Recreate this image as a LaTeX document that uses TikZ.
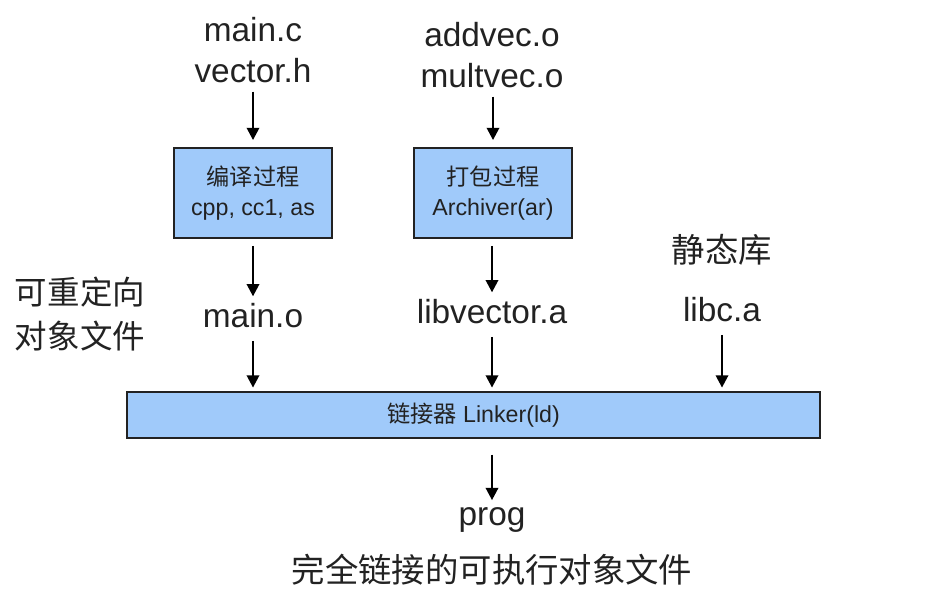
\documentclass[tikz,border=0pt]{standalone}
\usepackage{fontspec}
\setmainfont{Liberation Sans}
\newfontfamily\cjk{Noto Sans CJK SC}
\usetikzlibrary{arrows.meta}
\definecolor{boxblue}{RGB}{160,202,250}
\definecolor{ink}{RGB}{34,34,34}
\tikzset{
	big/.style={text=ink, font=\fontsize{19}{23}\selectfont, align=center, inner sep=0pt},
	small/.style={text=ink, font=\fontsize{13.2}{17}\selectfont, align=center},
	procbox/.style={small, draw=ink, line width=1pt, fill=boxblue, minimum width=3.16cm, minimum height=1.8cm},
	arr/.style={line width=1.4pt, -{Triangle[width=7pt, length=7pt]}, shorten <=5pt, shorten >=4pt}
}
\begin{document}
\begin{tikzpicture}
	\useasboundingbox (0, 0) rectangle (18.8, 11.98);
	\node[big] (srcA) at (5.06, 10.98) {main.c\\vector.h};
	\node[big] (srcB) at (9.84, 10.88) {addvec.o\\multvec.o};
	\node[procbox] (comp) at (5.06, 8.12) {{\cjk 编译过程}\\cpp, cc1, as};
	\node[procbox] (pack) at (9.86, 8.12) {{\cjk 打包过程}\\Archiver(ar)};
	\node[big] (maino) at (5.06, 5.66) {main.o};
	\node[big] (libvec) at (9.84, 5.74) {libvector.a};
	\node[big] (libc) at (14.44, 5.78) {libc.a};
	\node[big, font=\fontsize{19}{23}\selectfont\cjk] (static) at (14.44, 6.98) {静态库};
	\node[big, font=\fontsize{18.5}{25}\selectfont\cjk] (reloc) at (1.6, 5.7) {可重定向\\对象文件};
	\node[small, draw=ink, line width=1pt, fill=boxblue, minimum width=13.86cm, minimum height=0.92cm] (linker) at (9.47, 3.68) {{\cjk 链接器} Linker(ld)};
	\node[big] (prog) at (9.84, 1.58) {prog};
	\node[big, font=\fontsize{19}{23}\selectfont\cjk] (full) at (9.84, 0.58) {完全链接的可执行对象文件};

	\draw[arr] (srcA) -- (comp);
	\draw[arr] (srcB.south -| pack) -- (pack);
	\draw[arr, shorten <=4pt] (comp) -- (maino);
	\draw[arr, shorten <=4pt] (pack.south -| libvec) -- (libvec);
	\foreach \n in {maino, libvec, libc}
		\draw[arr, shorten <=7pt, shorten >=2pt] (\n) -- (\n |- linker.north);
	\draw[arr, shorten <=9pt] (prog |- linker.south) -- (prog);
\end{tikzpicture}
\end{document}
